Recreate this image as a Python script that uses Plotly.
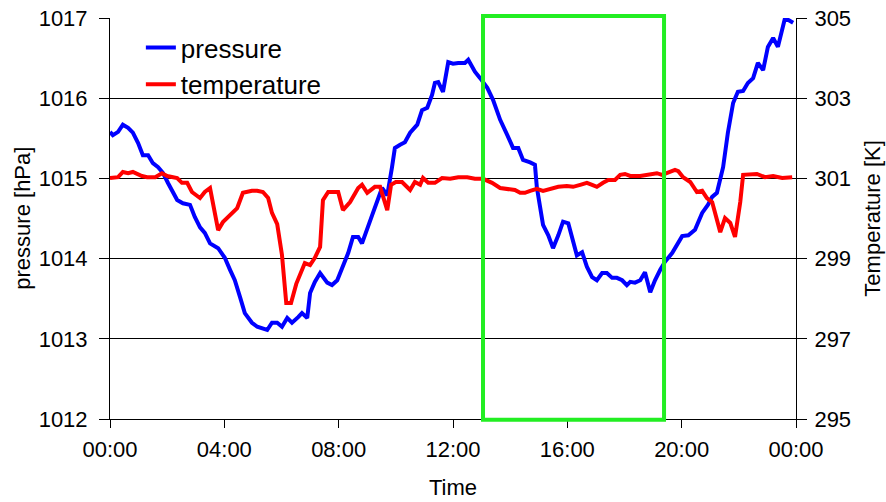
import plotly.graph_objects as go

# time in minutes since midnight
p_time = [0, 6, 17, 27, 38, 48, 59, 69, 80, 90, 101, 111, 122, 132, 141, 153, 168, 178, 189, 199,
          210, 227, 241, 252, 262, 273, 283, 298, 309, 330, 340, 351, 361, 372, 382, 395, 403, 414, 420, 430,
          441, 456, 466, 477, 489, 500, 510, 521, 529, 540, 552, 571, 582, 592, 598, 609, 619, 630, 645, 655,
          666, 676, 682, 689, 699, 710, 720, 731, 745, 752, 766, 777, 792, 804, 819, 834, 846, 857, 867, 882,
          892, 896, 903, 909, 920, 930, 941, 951, 962, 972, 980, 991, 1001, 1012, 1022, 1033, 1043, 1054, 1064, 1075,
          1085, 1092, 1102, 1113, 1123, 1134, 1144, 1155, 1165, 1180, 1186, 1201, 1214, 1228, 1243, 1255, 1264, 1274, 1287, 1297,
          1308, 1318, 1329, 1339, 1350, 1360, 1371, 1381, 1392, 1402, 1417, 1434]
pressure = [1015.58, 1015.54, 1015.58, 1015.67, 1015.63, 1015.57, 1015.44, 1015.29, 1015.29, 1015.19,
            1015.14, 1015.07, 1014.94, 1014.82, 1014.73, 1014.69, 1014.67, 1014.52, 1014.39, 1014.32,
            1014.19, 1014.13, 1014.01, 1013.86, 1013.73, 1013.52, 1013.32, 1013.20, 1013.15, 1013.11,
            1013.20, 1013.20, 1013.15, 1013.26, 1013.20, 1013.27, 1013.32, 1013.26, 1013.57, 1013.71,
            1013.82, 1013.70, 1013.67, 1013.73, 1013.90, 1014.07, 1014.27, 1014.27, 1014.19, 1014.36,
            1014.57, 1014.88, 1014.79, 1015.14, 1015.38, 1015.42, 1015.45, 1015.57, 1015.67, 1015.85,
            1015.88, 1016.04, 1016.19, 1016.20, 1016.08, 1016.45, 1016.43, 1016.44, 1016.44, 1016.48,
            1016.33, 1016.25, 1016.13, 1015.98, 1015.73, 1015.54, 1015.38, 1015.38, 1015.23, 1015.20,
            1015.17, 1014.89, 1014.64, 1014.42, 1014.29, 1014.13, 1014.29, 1014.46, 1014.44, 1014.21,
            1014.04, 1014.08, 1013.90, 1013.77, 1013.73, 1013.82, 1013.82, 1013.76, 1013.76, 1013.73,
            1013.67, 1013.71, 1013.70, 1013.73, 1013.83, 1013.58, 1013.73, 1013.86, 1013.96, 1014.07,
            1014.13, 1014.28, 1014.29, 1014.36, 1014.57, 1014.67, 1014.77, 1014.82, 1015.14, 1015.57,
            1015.94, 1016.08, 1016.09, 1016.19, 1016.25, 1016.44, 1016.35, 1016.64, 1016.75, 1016.64,
            1017.00, 1016.94]

t_time = [0, 17, 27, 38, 48, 67, 78, 95, 109, 120, 141, 151, 162, 172, 189, 199, 210, 227, 237, 252,
          267, 279, 298, 309, 321, 332, 340, 351, 361, 370, 380, 391, 399, 409, 420, 430, 441, 447, 458, 479,
          489, 504, 521, 529, 540, 556, 567, 582, 590, 600, 613, 630, 640, 651, 657, 668, 682, 697, 714, 731,
          750, 766, 783, 802, 819, 840, 850, 861, 871, 882, 896, 909, 928, 941, 959, 972, 987, 1001, 1012, 1022,
          1035, 1046, 1060, 1071, 1081, 1092, 1113, 1134, 1148, 1159, 1172, 1186, 1193, 1203, 1218, 1232, 1243, 1253, 1264, 1281,
          1291, 1302, 1312, 1323, 1329, 1344, 1358, 1375, 1392, 1411, 1432]
temperature = [301.01, 301.03, 301.16, 301.13, 301.16, 301.06, 301.03, 301.03, 301.13, 301.06,
               301.01, 300.89, 300.89, 300.66, 300.51, 300.66, 300.76, 299.71, 299.91, 300.09,
               300.26, 300.64, 300.69, 300.69, 300.66, 300.51, 300.14, 299.86, 299.09, 297.89,
               297.89, 298.37, 298.59, 298.89, 298.84, 299.02, 299.29, 300.46, 300.66, 300.66,
               300.21, 300.41, 300.76, 300.84, 300.64, 300.79, 300.79, 300.21, 300.84, 300.91,
               300.91, 300.71, 300.91, 300.84, 301.01, 300.89, 300.89, 301.01, 300.99, 301.03,
               301.03, 300.99, 300.99, 300.89, 300.76, 300.74, 300.71, 300.64, 300.64, 300.69,
               300.74, 300.69, 300.74, 300.79, 300.81, 300.79, 300.84, 300.89, 300.84, 300.79,
               300.89, 300.96, 300.96, 301.09, 301.11, 301.06, 301.06, 301.09, 301.13, 301.09,
               301.16, 301.21, 301.18, 301.03, 300.91, 300.66, 300.69, 300.51, 300.41, 299.66,
               300.01, 299.89, 299.54, 300.41, 301.09, 301.11, 301.11, 301.03, 301.06, 301.01, 301.03]

x_tickvals = [0, 240, 480, 720, 960, 1200, 1440]
x_ticktext = ["00:00", "04:00", "08:00", "12:00", "16:00", "20:00", "00:00"]
box_start, box_end = 783, 1163  # highlighted window, minutes

FONT = "Liberation Sans, Arial, Helvetica, sans-serif"

fig = go.Figure()
fig.add_trace(go.Scatter(x=p_time, y=pressure, mode="lines", name="pressure",
                         line=dict(color="#0000FF", width=4)))
fig.add_trace(go.Scatter(x=t_time, y=temperature, mode="lines", name="temperature",
                         line=dict(color="#FF0000", width=4), yaxis="y2"))

# white background behind the legend (covers gridline)
fig.add_shape(type="rect", xref="paper", yref="paper", x0=0.045, x1=0.389, y0=0.783, y1=0.975,
              line=dict(width=0), fillcolor="white", layer="between")
fig.add_shape(type="rect", xref="x", yref="paper", x0=box_start, x1=box_end, y0=-0.002, y1=1.005,
              line=dict(color="#22EE22", width=4), fillcolor="rgba(0,0,0,0)", layer="above")

fig.add_annotation(text="pressure [hPa]", xref="paper", yref="paper", x=-0.128, y=0.5,
                   xanchor="center", yanchor="middle", textangle=-90, showarrow=False,
                   font=dict(size=22))
fig.add_annotation(text="Temperature [K]", xref="paper", yref="paper", x=1.111, y=0.5,
                   xanchor="center", yanchor="middle", textangle=-90, showarrow=False,
                   font=dict(size=22))
fig.add_annotation(text="Time", xref="paper", yref="paper", x=0.5, y=-0.172,
                   xanchor="center", yanchor="middle", showarrow=False, font=dict(size=22))

fig.update_layout(
    width=886, height=502,
    margin=dict(l=110, r=90, t=18, b=83, autoexpand=False),
    paper_bgcolor="white", plot_bgcolor="white",
    font=dict(family=FONT, size=22, color="black"),
    showlegend=True,
    legend=dict(x=0.045, y=0.985, xanchor="left", yanchor="top", bgcolor="rgba(0,0,0,0)",
                font=dict(size=26), borderwidth=0, tracegroupgap=0),
    xaxis=dict(range=[0, 1440], tickvals=x_tickvals, ticktext=x_ticktext, automargin=False,
               showgrid=False, zeroline=False, showline=True, linecolor="black", linewidth=1,
               ticks="outside", ticklen=8, tickcolor="black", ticklabelstandoff=3),
    yaxis=dict(range=[1012, 1017], dtick=1, tick0=1012, showgrid=True, gridcolor="black", gridwidth=1,
               zeroline=False, showline=True, linecolor="black", linewidth=1, automargin=False,
               ticks="outside", ticklen=10, tickcolor="black", ticklabelstandoff=7),
    yaxis2=dict(range=[295, 305], dtick=2, tick0=295, overlaying="y", side="right", automargin=False,
                showgrid=False, zeroline=False, showline=True, linecolor="black", linewidth=1,
                ticks="outside", ticklen=10, tickcolor="black", ticklabelstandoff=3),
)

# remove the default 8px page margin so the figure fills the window exactly
fig.write_html("out.html", config={"displayModeBar": False},
               post_script="document.body.style.margin='0';")
